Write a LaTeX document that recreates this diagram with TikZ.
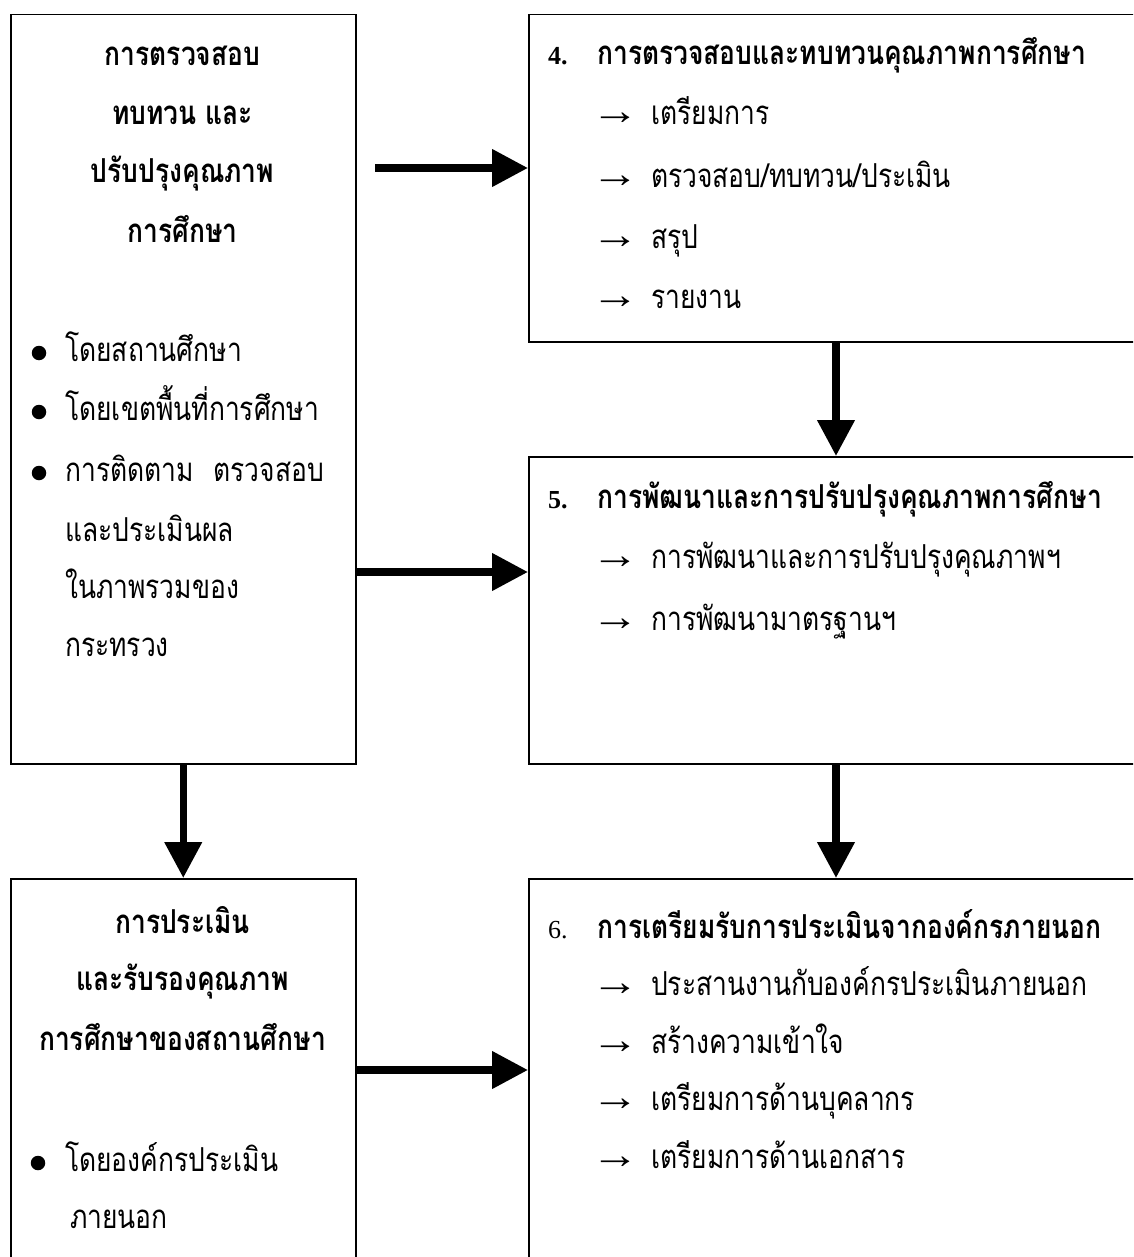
\documentclass[tikz,border=0pt]{standalone}
\usepackage{fontspec}
\setmainfont[Script=Thai,FakeStretch=0.8]{Loma}
\newfontfamily\lat{Liberation Serif}
\usetikzlibrary{arrows.meta}
\newcommand\TS{\fontsize{33}{36}\selectfont}
\newcommand\ARsym{\scalebox{1.6}[1.35]{\lat\fontsize{30}{30}\selectfont →}}
\begin{document}
\begin{tikzpicture}[x=1pt,y=-1pt,
  box/.style={draw,line width=1.5pt,rectangle,inner sep=0pt,anchor=north west},
  conn/.style={line width=7.5pt,-{Triangle[length=36pt,width=36pt]}},
  head/.style={font=\TS\bfseries,anchor=base,inner sep=0pt},
  txt/.style={font=\TS,anchor=base west,inner sep=0pt},
  btxt/.style={font=\TS\bfseries,anchor=base west,inner sep=0pt},
  num/.style={font=\lat\fontsize{26}{30}\selectfont\bfseries,anchor=base west,inner sep=0pt},
  numr/.style={font=\lat\fontsize{26}{30}\selectfont,anchor=base west,inner sep=0pt},
  arrsym/.style={anchor=base west,inner sep=0pt},
  bul/.style={fill,circle,inner sep=0pt,minimum size=14.5pt}
]
\useasboundingbox (0,0) rectangle (1133,1257);
\clip (0,0) rectangle (1133,1257);

% boxes
\node[box,minimum width=345pt,minimum height=749pt] (L) at (10,14) {};
\node[box,minimum width=640pt,minimum height=327pt] (B4) at (528,14) {};
\node[box,minimum width=640pt,minimum height=307pt] (B5) at (528,456) {};
\node[box,minimum width=345pt,minimum height=420pt] (L2) at (10,878) {};
\node[box,minimum width=640pt,minimum height=420pt] (B6) at (528,878) {};

% left top box text
\node[head] (lh1) at (182.5,66) {การตรวจสอบ};
\node[head] (lh2) at (182.5,125) {ทบทวน และ};
\node[head] (lh3) at (182.5,183) {ปรับปรุงคุณภาพ};
\node[head] (lh4) at (182.5,243) {การศึกษา};
\node[bul] (lb1) at (39,353) {};
\node[bul] (lb2) at (39,412) {};
\node[bul] (lb3) at (39,473) {};
\node[txt] (lt1) at (65,361) {โดยสถานศึกษา};
\node[txt] (lt2) at (65,420) {โดยเขตพื้นที่การศึกษา};
\node[txt] (lt3) at (65,481) {การติดตาม\hspace{0.6em}ตรวจสอบ};
\node[txt] (lt4) at (65,541) {และประเมินผล};
\node[txt] (lt5) at (65,598) {ในภาพรวมของ};
\node[txt] (lt6) at (65,656) {กระทรวง};

% box 4
\node[num] (n4) at (548,65) {4.};
\node[btxt] (t4) at (597,65) {การตรวจสอบและทบทวนคุณภาพการศึกษา};
\node[arrsym] (a41) at (591,125) {\ARsym};
\node[txt] (i41) at (651,125) {เตรียมการ};
\node[arrsym] (a42) at (591,188) {\ARsym};
\node[txt] (i42) at (651,188) {ตรวจสอบ/ทบทวน/ประเมิน};
\node[arrsym] (a43) at (591,248) {\ARsym};
\node[txt] (i43) at (651,248) {สรุป};
\node[arrsym] (a44) at (591,308) {\ARsym};
\node[txt] (i44) at (651,308) {รายงาน};

% box 5
\node[num] (n5) at (548,508) {5.};
\node[btxt] (t5) at (597,508) {การพัฒนาและการปรับปรุงคุณภาพการศึกษา};
\node[arrsym] (a51) at (591,568) {\ARsym};
\node[txt] (i51) at (651,568) {การพัฒนาและการปรับปรุงคุณภาพฯ};
\node[arrsym] (a52) at (591,630) {\ARsym};
\node[txt] (i52) at (651,630) {การพัฒนามาตรฐานฯ};

% left bottom box
\node[head] (mh1) at (182.5,933) {การประเมิน};
\node[head] (mh2) at (182.5,990) {และรับรองคุณภาพ};
\node[head] (mh3) at (182.5,1050) {การศึกษาของสถานศึกษา};
\node[bul] (mb1) at (38,1163) {};
\node[txt] (mt1) at (65,1171) {โดยองค์กรประเมิน};
\node[txt] (mt2) at (70,1228) {ภายนอก};

% box 6
\node[numr] (n6) at (548,938) {6.};
\node[btxt] (t6) at (597,938) {การเตรียมรับการประเมินจากองค์กรภายนอก};
\node[arrsym] (a61) at (591,995) {\ARsym};
\node[txt] (i61) at (651,995) {ประสานงานกับองค์กรประเมินภายนอก};
\node[arrsym] (a62) at (591,1053) {\ARsym};
\node[txt] (i62) at (651,1053) {สร้างความเข้าใจ};
\node[arrsym] (a63) at (591,1110) {\ARsym};
\node[txt] (i63) at (651,1110) {เตรียมการด้านบุคลากร};
\node[arrsym] (a64) at (591,1168) {\ARsym};
\node[txt] (i64) at (651,1168) {เตรียมการด้านเอกสาร};

% connectors
\coordinate (a0) at (375,168);
\coordinate (xr) at (836,0);
\coordinate (yc) at (0,572);
\coordinate (yf) at (0,1070);
\draw[conn] (a0) -- (a0 -| B4.west);
\draw[conn] (B4.south -| xr) -- (B5.north -| xr);
\draw[conn] (L.east |- yc) -- (B5.west |- yc);
\draw[conn] (B5.south -| xr) -- (B6.north -| xr);
\draw[conn] (L.south) -- (L2.north);
\draw[conn] (L2.east |- yf) -- (B6.west |- yf);
\end{tikzpicture}
\end{document}
